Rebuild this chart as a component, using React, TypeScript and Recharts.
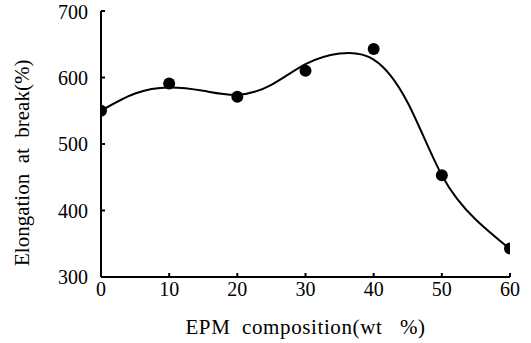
import { ComposedChart, Line, Scatter, XAxis, YAxis } from "recharts";

// measured points
const epmWt = [0, 10, 20, 30, 40, 50, 60];
const elongation = [550, 591, 571, 610, 643, 453, 343];

// fitted curve
const fitWt = [0, 5, 10, 15, 20, 25, 30, 35, 40, 45, 50, 55, 60];
const fitElongation = [550, 576, 585, 580, 574, 589, 620, 636, 627, 562, 453, 386, 342];

const xTicks = [0, 10, 20, 30, 40, 50, 60];
const yTicks = [300, 400, 500, 600, 700];

const points = epmWt.map((x, i) => ({ x, y: elongation[i] }));
const curve = fitWt.map((x, i) => ({ x, y: fitElongation[i] }));

const font = "'Liberation Serif', 'Times New Roman', serif";

const Dot = (props: any) => <circle cx={props.cx} cy={props.cy} r={6} fill="#000" />;

export default function App() {
  return (
    <div style={{ position: "absolute", left: 0, top: 0, background: "#fff" }}>
      <ComposedChart width={531} height={343} margin={{ top: 11, right: 21, bottom: 36, left: 41 }}>
        <XAxis
          dataKey="x"
          type="number"
          domain={[0, 60]}
          ticks={xTicks}
          allowDataOverflow
          stroke="#000"
          strokeWidth={2}
          tickSize={-4}
          tickMargin={9}
          tick={{ fill: "#000", fontSize: 20, fontFamily: font }}
          height={30}
          label={{
            value: "EPM\u00a0 composition(wt\u00a0\u00a0 %)",
            position: "insideBottom",
            offset: -27,
            fill: "#000",
            fontSize: 21,
            letterSpacing: 0.6,
            fontFamily: font,
          }}
        />
        <YAxis
          dataKey="y"
          type="number"
          domain={[300, 700]}
          ticks={yTicks}
          allowDataOverflow
          stroke="#000"
          strokeWidth={2}
          tickSize={-4}
          tickMargin={17}
          width={60}
          tick={{ fill: "#000", fontSize: 20, fontFamily: font }}
          label={{
            value: "Elongation\u00a0 at\u00a0 break(%)",
            angle: -90,
            position: "insideLeft",
            offset: -19,
            dy: 122,
            fill: "#000",
            fontSize: 21,
            fontFamily: font,
          }}
        />
        <Line
          data={curve}
          dataKey="y"
          type="natural"
          stroke="#000"
          strokeWidth={2}
          dot={false}
          isAnimationActive={false}
        />
        <Scatter data={points} dataKey="y" fill="#000" shape={Dot} isAnimationActive={false} />
      </ComposedChart>
    </div>
  );
}
